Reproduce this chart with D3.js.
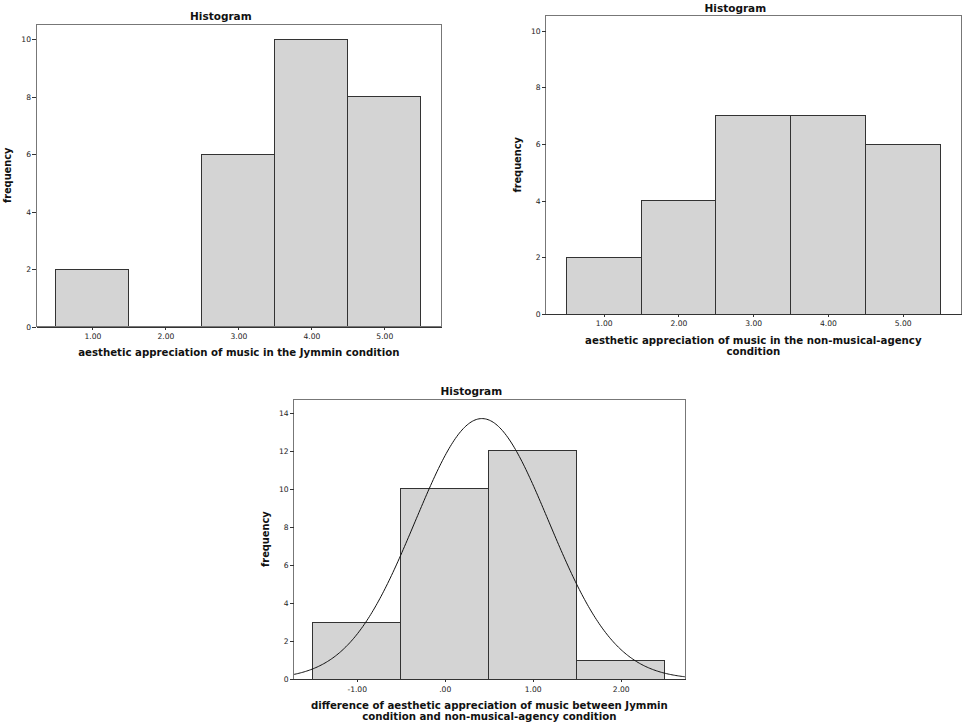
<!DOCTYPE html>
<html>
<head>
  <title>Histograms</title>
  <script src="https://d3js.org/d3.v7.min.js"></script>
  <style>
    body { margin: 0; background: #fff; }
    text { font-family: "DejaVu Sans", Verdana, sans-serif; fill: #111; }
    .title { font-size: 10.5px; font-weight: bold; text-anchor: middle; }
    .axis-label { font-size: 10.2px; font-weight: bold; text-anchor: middle; }
    .y-label { font-size: 9.8px; font-weight: bold; text-anchor: middle; }
    .axis text { font-size: 7.6px; fill: #222; font-family: "DejaVu Sans", sans-serif; }
    .axis path, .axis line { stroke: #333; stroke-width: 1px; shape-rendering: crispEdges; }
    .frame { fill: none; stroke: #777; stroke-width: 1px; shape-rendering: crispEdges; }
    .bar { fill: #d4d4d4; stroke: #333; stroke-width: 1px; shape-rendering: crispEdges; }
    .curve { fill: none; stroke: #111; stroke-width: 1px; }
  </style>
</head>
<body>
  <svg id="chart" width="964" height="724"></svg>

  <script>
    // Bin centres and counts
    const jymminBins = [1, 2, 3, 4, 5];
    const jymminCounts = [2, 0, 6, 10, 8];

    const agencyBins = [1, 2, 3, 4, 5];
    const agencyCounts = [2, 4, 7, 7, 6];

    const diffBins = [-1, 0, 1, 2];
    const diffCounts = [3, 10, 12, 1];

    // Tick labels
    const scoreTickLabels = ["1.00", "2.00", "3.00", "4.00", "5.00"];
    const diffTickLabels = ["-1.00", ".00", "1.00", "2.00"];
    const yTicks10 = [0, 2, 4, 6, 8, 10];
    const yTicks14 = [0, 2, 4, 6, 8, 10, 12, 14];

    // Texts
    const titleText = "Histogram";
    const yLabelText = "frequency";
    const jymminLabel = ["aesthetic appreciation of music in the Jymmin condition"];
    const agencyLabel = ["aesthetic appreciation of music in the non-musical-agency", "condition"];
    const diffLabel = ["difference of aesthetic appreciation of music between Jymmin", "condition and non-musical-agency condition"];

    const svg = d3.select("#chart");

    function histogram(opts) {
      const { left, top, right, bottom } = opts.frame;
      const g = svg.append("g");

      const x = d3.scaleLinear().domain(opts.xDomain).range([left, right]);
      const y = d3.scaleLinear().domain(opts.yDomain).range([bottom, top]);

      const data = opts.bins.map((c, i) => ({ c: c, n: opts.counts[i] }));

      // bars
      g.selectAll("rect.bar")
        .data(data.filter(d => d.n > 0))
        .enter()
        .append("rect")
        .attr("class", "bar")
        .attr("x", d => x(d.c - opts.binWidth / 2))
        .attr("y", d => y(d.n))
        .attr("width", d => x(d.c + opts.binWidth / 2) - x(d.c - opts.binWidth / 2))
        .attr("height", d => y(0) - y(d.n));

      // fitted normal curve
      if (opts.curve) {
        const total = d3.sum(data, d => d.n);
        const mean = d3.sum(data, d => d.c * d.n) / total;
        const variance = d3.sum(data, d => d.n * (d.c - mean) ** 2) / (total - 1);
        const sd = Math.sqrt(variance);
        const xs = d3.range(0, 301).map(i => opts.xDomain[0] + (opts.xDomain[1] - opts.xDomain[0]) * i / 300);
        const line = d3.line()
          .x(v => x(v))
          .y(v => y(total * opts.binWidth * Math.exp(-0.5 * ((v - mean) / sd) ** 2) / (sd * Math.sqrt(2 * Math.PI))))
          .curve(d3.curveBasis);
        g.append("path").attr("class", "curve").attr("d", line(xs));
      }

      // frame
      g.append("rect")
        .attr("class", "frame")
        .attr("x", left)
        .attr("y", top)
        .attr("width", right - left)
        .attr("height", bottom - top);

      // y axis
      g.append("g")
        .attr("class", "axis")
        .attr("transform", `translate(${left},0)`)
        .call(d3.axisLeft(y).tickValues(opts.yTicks).tickSize(4).tickPadding(1).tickSizeOuter(0).tickFormat(d3.format("d")))
        .call(s => s.select(".domain").remove());

      // x axis
      g.append("g")
        .attr("class", "axis")
        .attr("transform", `translate(0,${bottom})`)
        .call(d3.axisBottom(x).tickValues(opts.bins).tickSize(3).tickPadding(4).tickSizeOuter(0)
          .tickFormat((d, i) => opts.tickLabels[i]));

      // title
      g.append("text")
        .attr("class", "title")
        .attr("x", (left + right) / 2 - 18)
        .attr("y", top - 4)
        .text(titleText);

      // x label
      g.append("text")
        .attr("class", "axis-label")
        .attr("x", (left + right) / 2)
        .attr("y", bottom + 29.5)
        .selectAll("tspan")
        .data(opts.xLabel)
        .enter()
        .append("tspan")
        .attr("x", (left + right) / 2)
        .attr("dy", (d, i) => i === 0 ? 0 : 11)
        .text(d => d);

      // y label
      g.append("text")
        .attr("class", "y-label")
        .attr("transform", `translate(${left - 25},${(top + bottom) / 2}) rotate(-90)`)
        .text(yLabelText);
    }

    histogram({
      frame: { left: 36, top: 24, right: 441.7, bottom: 326.7 },
      xDomain: [0.228, 5.786], yDomain: [0, 10.53],
      bins: jymminBins, counts: jymminCounts, binWidth: 1,
      tickLabels: scoreTickLabels, yTicks: yTicks10, xLabel: jymminLabel
    });

    histogram({
      frame: { left: 545.7, top: 15.7, right: 961, bottom: 314 },
      xDomain: [0.224, 5.78], yDomain: [0, 10.53],
      bins: agencyBins, counts: agencyCounts, binWidth: 1,
      tickLabels: scoreTickLabels, yTicks: yTicks10, xLabel: agencyLabel
    });

    histogram({
      frame: { left: 293.7, top: 399, right: 685, bottom: 679.3 },
      xDomain: [-1.716, 2.73], yDomain: [0, 14.72],
      bins: diffBins, counts: diffCounts, binWidth: 1,
      tickLabels: diffTickLabels, yTicks: yTicks14, xLabel: diffLabel, curve: true
    });
  </script>
</body>
</html>
